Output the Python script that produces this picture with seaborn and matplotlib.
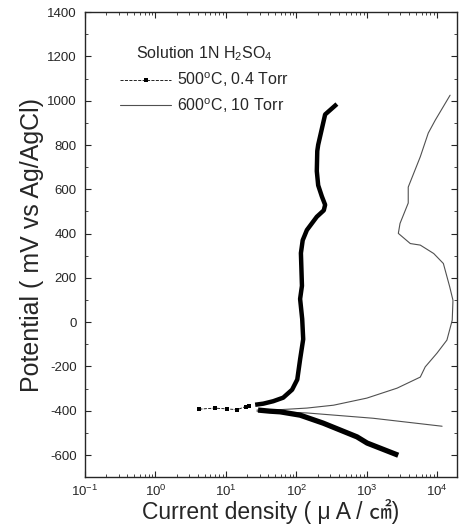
import pandas as pd
import seaborn as sns
import matplotlib.pyplot as plt
from matplotlib.lines import Line2D
from matplotlib.ticker import LogLocator, MultipleLocator, NullFormatter

# 500 C, 0.4 Torr - anodic branch (uA/cm2, mV)
i500_an = [26, 34, 47, 65, 87, 103, 113, 125, 121, 113, 120, 116, 123, 141,
           195, 245, 256, 230, 204, 195, 198, 204, 256, 376]
e500_an = [-373, -368, -357, -341, -305, -259, -168, -77, 14, 105, 164, 312, 370, 416,
           476, 505, 530, 568, 618, 682, 773, 801, 938, 985]
# 500 C - sparse points near corrosion potential
i500_low = [4.2, 6.9, 10.5, 14.5, 19, 21]
e500_low = [-393, -388, -392, -395, -381, -377]
# 500 C - cathodic branch
i500_cat = [28.6, 42, 59, 113, 240, 725, 1010, 2790]
e500_cat = [-397, -402, -405, -420, -456, -518, -546, -601]

# 600 C, 10 Torr - anodic branch
i600_an = [27.6, 47, 141, 337, 1000, 2690, 5740, 6740, 9900, 13700, 16300, 16700, 15000,
           12200, 8900, 5740, 4140, 2800, 2960, 3870, 3870, 5740, 7450, 9350, 15200]
e600_an = [-397, -397, -388, -375, -343, -298, -248, -202, -140, -81, 9, 99, 160,
           265, 310, 348, 355, 401, 446, 538, 610, 747, 854, 912, 1025]
# 600 C - cathodic branch
i600_cat = [27.6, 141, 1230, 11700]
e600_cat = [-402, -410, -434, -470]

sns.set_style("ticks")
plt.rcParams["font.family"] = ["Liberation Sans", "Noto Sans CJK JP", "DejaVu Sans"]
plt.rcParams["mathtext.fontset"] = "custom"
plt.rcParams["mathtext.rm"] = "Liberation Sans"
plt.rcParams["axes.unicode_minus"] = False

fig = plt.figure(figsize=(4.62, 5.29), dpi=100)
ax = fig.add_axes([0.184, 0.098, 0.805, 0.879])

df_an5 = pd.DataFrame({"i": i500_an, "e": e500_an})
df_low5 = pd.DataFrame({"i": i500_low, "e": e500_low})
df_cat5 = pd.DataFrame({"i": i500_cat, "e": e500_cat})
df_an6 = pd.DataFrame({"i": i600_an, "e": e600_an})
df_cat6 = pd.DataFrame({"i": i600_cat, "e": e600_cat})

# 600 C thin line
for d in (df_an6, df_cat6):
    sns.lineplot(data=d, x="i", y="e", sort=False, estimator=None, ax=ax,
                 color="#505050", lw=0.8)

# 500 C thick dotted trace
sns.lineplot(data=df_an5, x="i", y="e", sort=False, estimator=None, ax=ax,
             color="black", lw=3.2, solid_capstyle="butt", solid_joinstyle="round")
sns.lineplot(data=df_cat5, x="i", y="e", sort=False, estimator=None, ax=ax,
             color="black", lw=3.8, solid_capstyle="butt", solid_joinstyle="round")
sns.lineplot(data=df_low5, x="i", y="e", sort=False, estimator=None, ax=ax,
             color="black", lw=0.6, ls="--", marker="s", markersize=3.2,
             markeredgewidth=0)

ax.set_xscale("log")
ax.set_xlim(0.1, 19000)
ax.set_ylim(-700, 1400)
ax.yaxis.set_major_locator(MultipleLocator(200))
ax.yaxis.set_minor_locator(MultipleLocator(100))
ax.xaxis.set_major_locator(LogLocator(base=10, numticks=10))
ax.xaxis.set_minor_locator(LogLocator(base=10, subs=range(2, 10), numticks=10))
ax.xaxis.set_minor_formatter(NullFormatter())
ax.tick_params(which="both", direction="in", top=True, right=True, labelsize=9.5)
ax.tick_params(axis="y", pad=6)
ax.tick_params(axis="x", pad=5)
ax.tick_params(which="major", length=4, width=0.8)
ax.tick_params(which="minor", length=2, width=0.6)
for s in ax.spines.values():
    s.set_linewidth(1.0)

ax.set_xlabel("Current density ( μ A / ㎠)", fontsize=16.5, labelpad=0)
ax.set_ylabel("Potential ( mV vs Ag/AgCl)", fontsize=18, labelpad=2)

handles = [
    Line2D([], [], color="black", lw=0.6, ls="--", marker="s", markersize=3,
           markevery=[1], markeredgewidth=0),
    Line2D([], [], color="#505050", lw=0.8),
]
leg = ax.legend(handles, ["500$^{\\rm o}$C, 0.4 Torr", "600$^{\\rm o}$C, 10 Torr"],
                title="Solution 1N H$_2$SO$_4$", loc="upper left",
                bbox_to_anchor=(0.094, 0.93), frameon=False, fontsize=11.5,
                title_fontsize=11.5, handlelength=3.2, handletextpad=0.35,
                labelspacing=0.45, borderpad=0, borderaxespad=0)

fig.savefig("out.png", dpi=100)
